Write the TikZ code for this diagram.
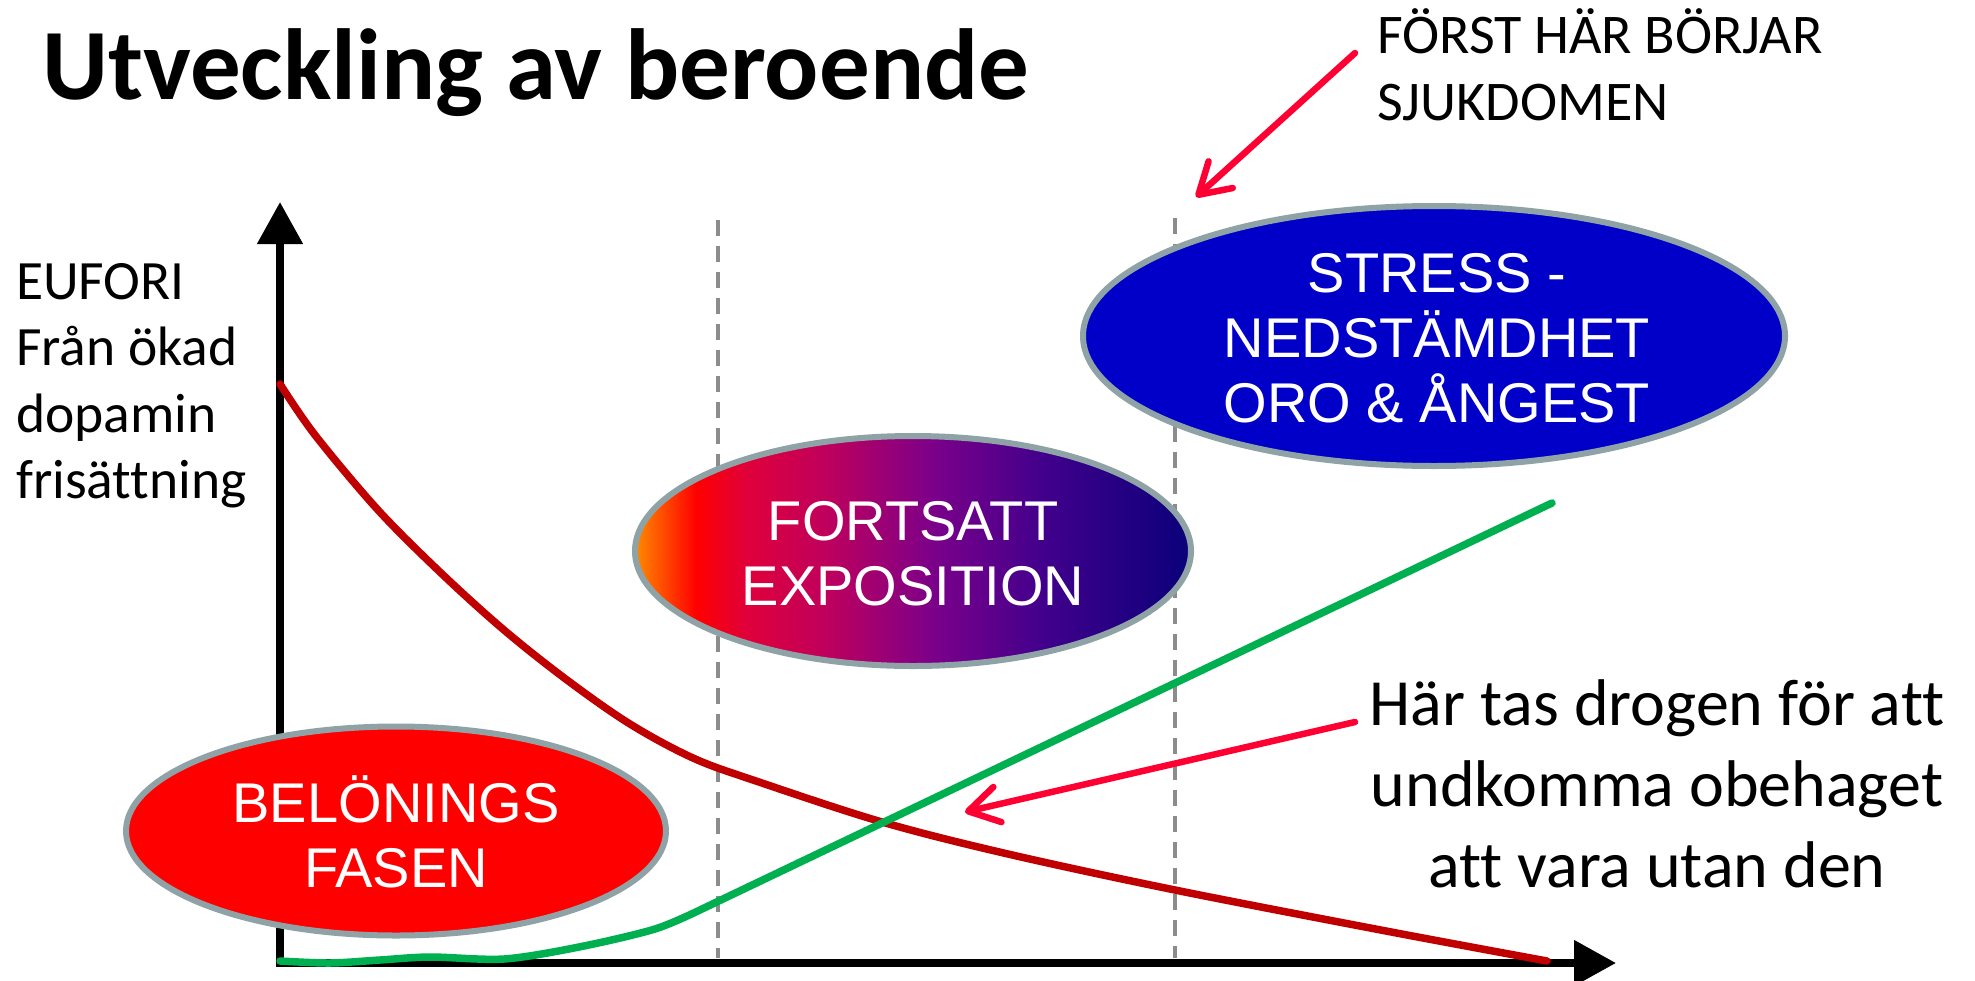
\documentclass[tikz,border=0pt]{standalone}
\usepackage{fontspec}
\setmainfont{Carlito}[Ligatures=CommonOff]
\newfontfamily\arialf{Liberation Sans}
\usetikzlibrary{shapes.geometric,arrows.meta,calc}
\definecolor{bordergray}{HTML}{8FA3A6}
\definecolor{curvered}{HTML}{C00000}
\definecolor{curvegreen}{HTML}{00B050}
\definecolor{arrowpink}{HTML}{FF0033}
\definecolor{stressblue}{HTML}{0000C8}
\definecolor{belred}{HTML}{FF0000}
\definecolor{dashgray}{HTML}{8C8C8C}
\definecolor{gA}{HTML}{FF8A00}
\definecolor{gB}{HTML}{FF0000}
\definecolor{gC}{HTML}{E0003A}
\definecolor{gD}{HTML}{C0005C}
\definecolor{gE}{HTML}{7A008A}
\definecolor{gF}{HTML}{40008C}
\definecolor{gG}{HTML}{0A007A}
\pgfdeclarehorizontalshading{expo}{100bp}{color(0bp)=(gA); color(25bp)=(gA); color(30.5bp)=(gB); color(35bp)=(gC); color(42bp)=(gD); color(52bp)=(gE); color(62bp)=(gF); color(75bp)=(gG); color(100bp)=(gG)}
\tikzset{
  phase/.style={ellipse, draw=bordergray, line width=6pt, inner sep=0pt},
  phasetext/.style={text=white, font=\arialf\fontsize{56}{65}\selectfont, align=center, inner sep=0pt, anchor=base},
  axisline/.style={line width=8pt, -{Triangle[length=42pt,width=44pt]}},
  divider/.style={dashgray, line width=4pt, dash pattern=on 16pt off 10pt},
  pointer/.style={arrowpink, line width=6.5pt, line cap=round, -{Straight Barb[length=30pt,width=36pt,round]}},
  curve/.style={line width=7.5pt, line cap=round, line join=round}
}
\begin{document}
\begin{tikzpicture}[x=1pt,y=-1pt]
\fill[white] (0,0) rectangle (1975,980);
\useasboundingbox (0,0) rectangle (1975,980);

% dividers
\coordinate (d1top) at (718,220);
\coordinate (d1bot) at (718,958);
\coordinate (d2top) at (1175,218);
\coordinate (d2bot) at (1175,958);
\draw[divider] (d1top) -- (d1bot);
\draw[divider] (d2top) -- (d2bot);

% axes
\coordinate (O) at (280,963);
\coordinate (ytip) at (280,202);
\coordinate (xtip) at (1616,963);
\draw[axisline] (O) ++(0,4) -- (ytip);
\draw[axisline] (O) ++(-4,0) -- (xtip);

% curves
\draw[curve, curvered] plot[smooth, tension=0.55] coordinates {(280,384) (315,435) (378,510) (441,573) (504,630) (567,680) (630,724) (693,758) (756,781) (882,822) (1008,854) (1175,890) (1386,931) (1547,961)};
\draw[curve, curvegreen] plot[smooth, tension=0.5] coordinates {(280,961) (330,963) (380,960) (430,957) (504,959) (579,947) (655,929) (702,909)} -- (1552,503);

% phases
\node[phase, fill=belred, minimum width=540pt, minimum height=209pt] (bel) at (396,831) {};
\node[phase, shade, shading=expo, minimum width=556pt, minimum height=230pt] (expo) at (913,551) {};
\node[phase, fill=stressblue, minimum width=702pt, minimum height=260pt] (stress) at (1434,336) {};
\node[phasetext] (beltext) at (396,887) {BELÖNINGS\\FASEN};
\node[phasetext] (expotext) at (913,605) {FORTSATT\\EXPOSITION};
\node[phasetext] (stresstext) at (1437,422) {STRESS -\\NEDSTÄMDHET\\ORO \& ÅNGEST};

% texts
\node[anchor=base west, inner sep=0pt, font=\bfseries\fontsize{101}{120}\selectfont] (title) at (42,99) {Utveckling av beroende};
\node[anchor=base west, inner sep=0pt, align=left, font=\fontsize{55.5}{66.5}\selectfont] (ylab) at (16,498.5) {EUFORI\\Från ökad\\dopamin\\frisättning};
\node[anchor=base west, inner sep=0pt, align=left, font=\fontsize{56}{67}\selectfont] (note1) at (1377,120) {FÖRST HÄR BÖRJAR\\SJUKDOMEN};
\node[anchor=base, inner sep=0pt, align=center, font=\fontsize{66}{81}\selectfont] (note2) at (1657,887) {Här tas drogen för att\\undkomma obehaget\\att vara utan den};

% pointers
\coordinate (p1start) at (1355,53);
\coordinate (p1tip) at (1196,197);
\coordinate (p2start) at (1355,722);
\coordinate (p2tip) at (965,812);
\draw[pointer] (p1start) -- (p1tip);
\draw[pointer] (p2start) -- (p2tip);
\end{tikzpicture}
\end{document}
